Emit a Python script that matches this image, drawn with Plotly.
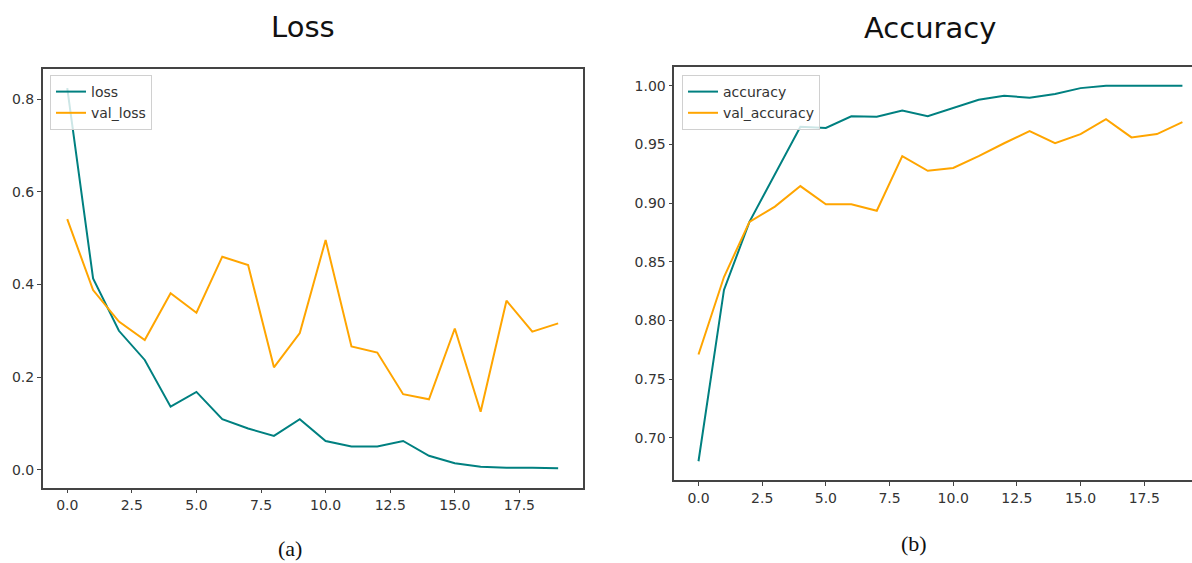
import plotly.graph_objects as go

W, H = 1192, 563

epochs = list(range(20))

loss = [0.824, 0.413, 0.300, 0.237, 0.136, 0.168, 0.109, 0.089, 0.073, 0.109,
        0.062, 0.050, 0.050, 0.062, 0.030, 0.014, 0.0065, 0.004, 0.004, 0.003]
val_loss = [0.541, 0.388, 0.320, 0.280, 0.381, 0.339, 0.460, 0.442, 0.221, 0.295,
            0.496, 0.266, 0.253, 0.163, 0.152, 0.305, 0.125, 0.365, 0.298, 0.316]

accuracy = [0.680, 0.826, 0.884, 0.924, 0.965, 0.964, 0.974, 0.9736, 0.979, 0.974,
            0.981, 0.988, 0.9915, 0.9898, 0.993, 0.998, 1.000, 1.000, 0.9995, 1.000]
val_accuracy = [0.771, 0.837, 0.884, 0.897, 0.9145, 0.899, 0.899, 0.8935, 0.940, 0.9275,
                0.930, 0.940, 0.951, 0.9614, 0.951, 0.9588, 0.9716, 0.956, 0.9588, 0.969]

x_ticks = [0.0, 2.5, 5.0, 7.5, 10.0, 12.5, 15.0, 17.5]
loss_ticks = [0.0, 0.2, 0.4, 0.6, 0.8]
acc_ticks = [0.70, 0.75, 0.80, 0.85, 0.90, 0.95, 1.00]

titles = ["Loss", "Accuracy"]
captions = ["(a)", "(b)"]

TEAL = "#008080"
ORANGE = "#FFA500"
AXC = "#444444"
TICKFONT = dict(family="DejaVu Sans", size=14, color="#333333")

fig = go.Figure()

fig.add_trace(go.Scatter(x=epochs, y=loss, mode="lines", name="loss",
                         line=dict(color=TEAL, width=2), xaxis="x", yaxis="y", legend="legend"))
fig.add_trace(go.Scatter(x=epochs, y=val_loss, mode="lines", name="val_loss",
                         line=dict(color=ORANGE, width=2), xaxis="x", yaxis="y", legend="legend"))
fig.add_trace(go.Scatter(x=epochs, y=accuracy, mode="lines", name="accuracy",
                         line=dict(color=TEAL, width=2), xaxis="x2", yaxis="y2", legend="legend2"))
fig.add_trace(go.Scatter(x=epochs, y=val_accuracy, mode="lines", name="val_accuracy",
                         line=dict(color=ORANGE, width=2), xaxis="x2", yaxis="y2", legend="legend2"))

def px_x(p):
    return p / W

def px_y(p):
    return (H - p) / H

common_x = dict(showgrid=False, zeroline=False, showline=True, linecolor=AXC, linewidth=1.5,
                ticks="outside", ticklen=4, tickcolor=AXC, tickfont=TICKFONT)
common_y = dict(showgrid=False, zeroline=False, showline=True, linecolor=AXC, linewidth=1.5,
                ticks="outside", ticklen=4, tickcolor=AXC, tickfont=TICKFONT)

fig.update_layout(
    xaxis=dict(domain=[px_x(42.7), px_x(582.7)], range=[-0.95, 19.95], anchor="y",
               tickvals=x_ticks, ticktext=[f"{v:.1f}" for v in x_ticks], mirror=True, **common_x),
    yaxis=dict(domain=[px_y(487.7), px_y(69)], range=[-0.0389, 0.8654], anchor="x",
               tickvals=loss_ticks, ticktext=[f"{v:.1f}" for v in loss_ticks], mirror=True, **common_y),
    xaxis2=dict(domain=[px_x(674.3), 1.0], range=[-0.95, (W - 698.3) / 25.48], anchor="y2",
                tickvals=x_ticks, ticktext=[f"{v:.1f}" for v in x_ticks], mirror=True, **common_x),
    yaxis2=dict(domain=[px_y(480), px_y(67)], range=[0.664, 1.016], anchor="x2",
                tickvals=acc_ticks, ticktext=[f"{v:.2f}" for v in acc_ticks], mirror=False, **common_y),
)

legend_style = dict(font=dict(family="DejaVu Sans", size=14, color="#333333"),
                    bgcolor="rgba(255,255,255,0.8)", bordercolor="#d0d0d0", borderwidth=1,
                    xanchor="left", yanchor="top", itemwidth=30, tracegroupgap=0)
fig.update_layout(
    legend=dict(x=px_x(50), y=px_y(75), **legend_style),
    legend2=dict(x=px_x(682), y=px_y(75), **legend_style),
)

annotations = [
    dict(text=titles[0], x=px_x(303), y=px_y(27), xref="paper", yref="paper", showarrow=False,
         xanchor="center", yanchor="middle", font=dict(family="DejaVu Sans", size=29, color="#111111")),
    dict(text=titles[1], x=px_x(930), y=px_y(28), xref="paper", yref="paper", showarrow=False,
         xanchor="center", yanchor="middle", font=dict(family="DejaVu Sans", size=29, color="#111111")),
    dict(text=captions[0], x=px_x(290), y=px_y(548), xref="paper", yref="paper", showarrow=False,
         xanchor="center", yanchor="middle", font=dict(family="Liberation Serif", size=22, color="#111111")),
    dict(text=captions[1], x=px_x(914), y=px_y(543), xref="paper", yref="paper", showarrow=False,
         xanchor="center", yanchor="middle", font=dict(family="Liberation Serif", size=22, color="#111111")),
]

fig.update_layout(
    width=W, height=H, margin=dict(l=0, r=0, t=0, b=0),
    paper_bgcolor="white", plot_bgcolor="white",
    showlegend=True, annotations=annotations,
)

fig.write_html("out.html", config={"displayModeBar": False},
               post_script="document.body.style.margin='0px';document.body.style.overflow='hidden';")
